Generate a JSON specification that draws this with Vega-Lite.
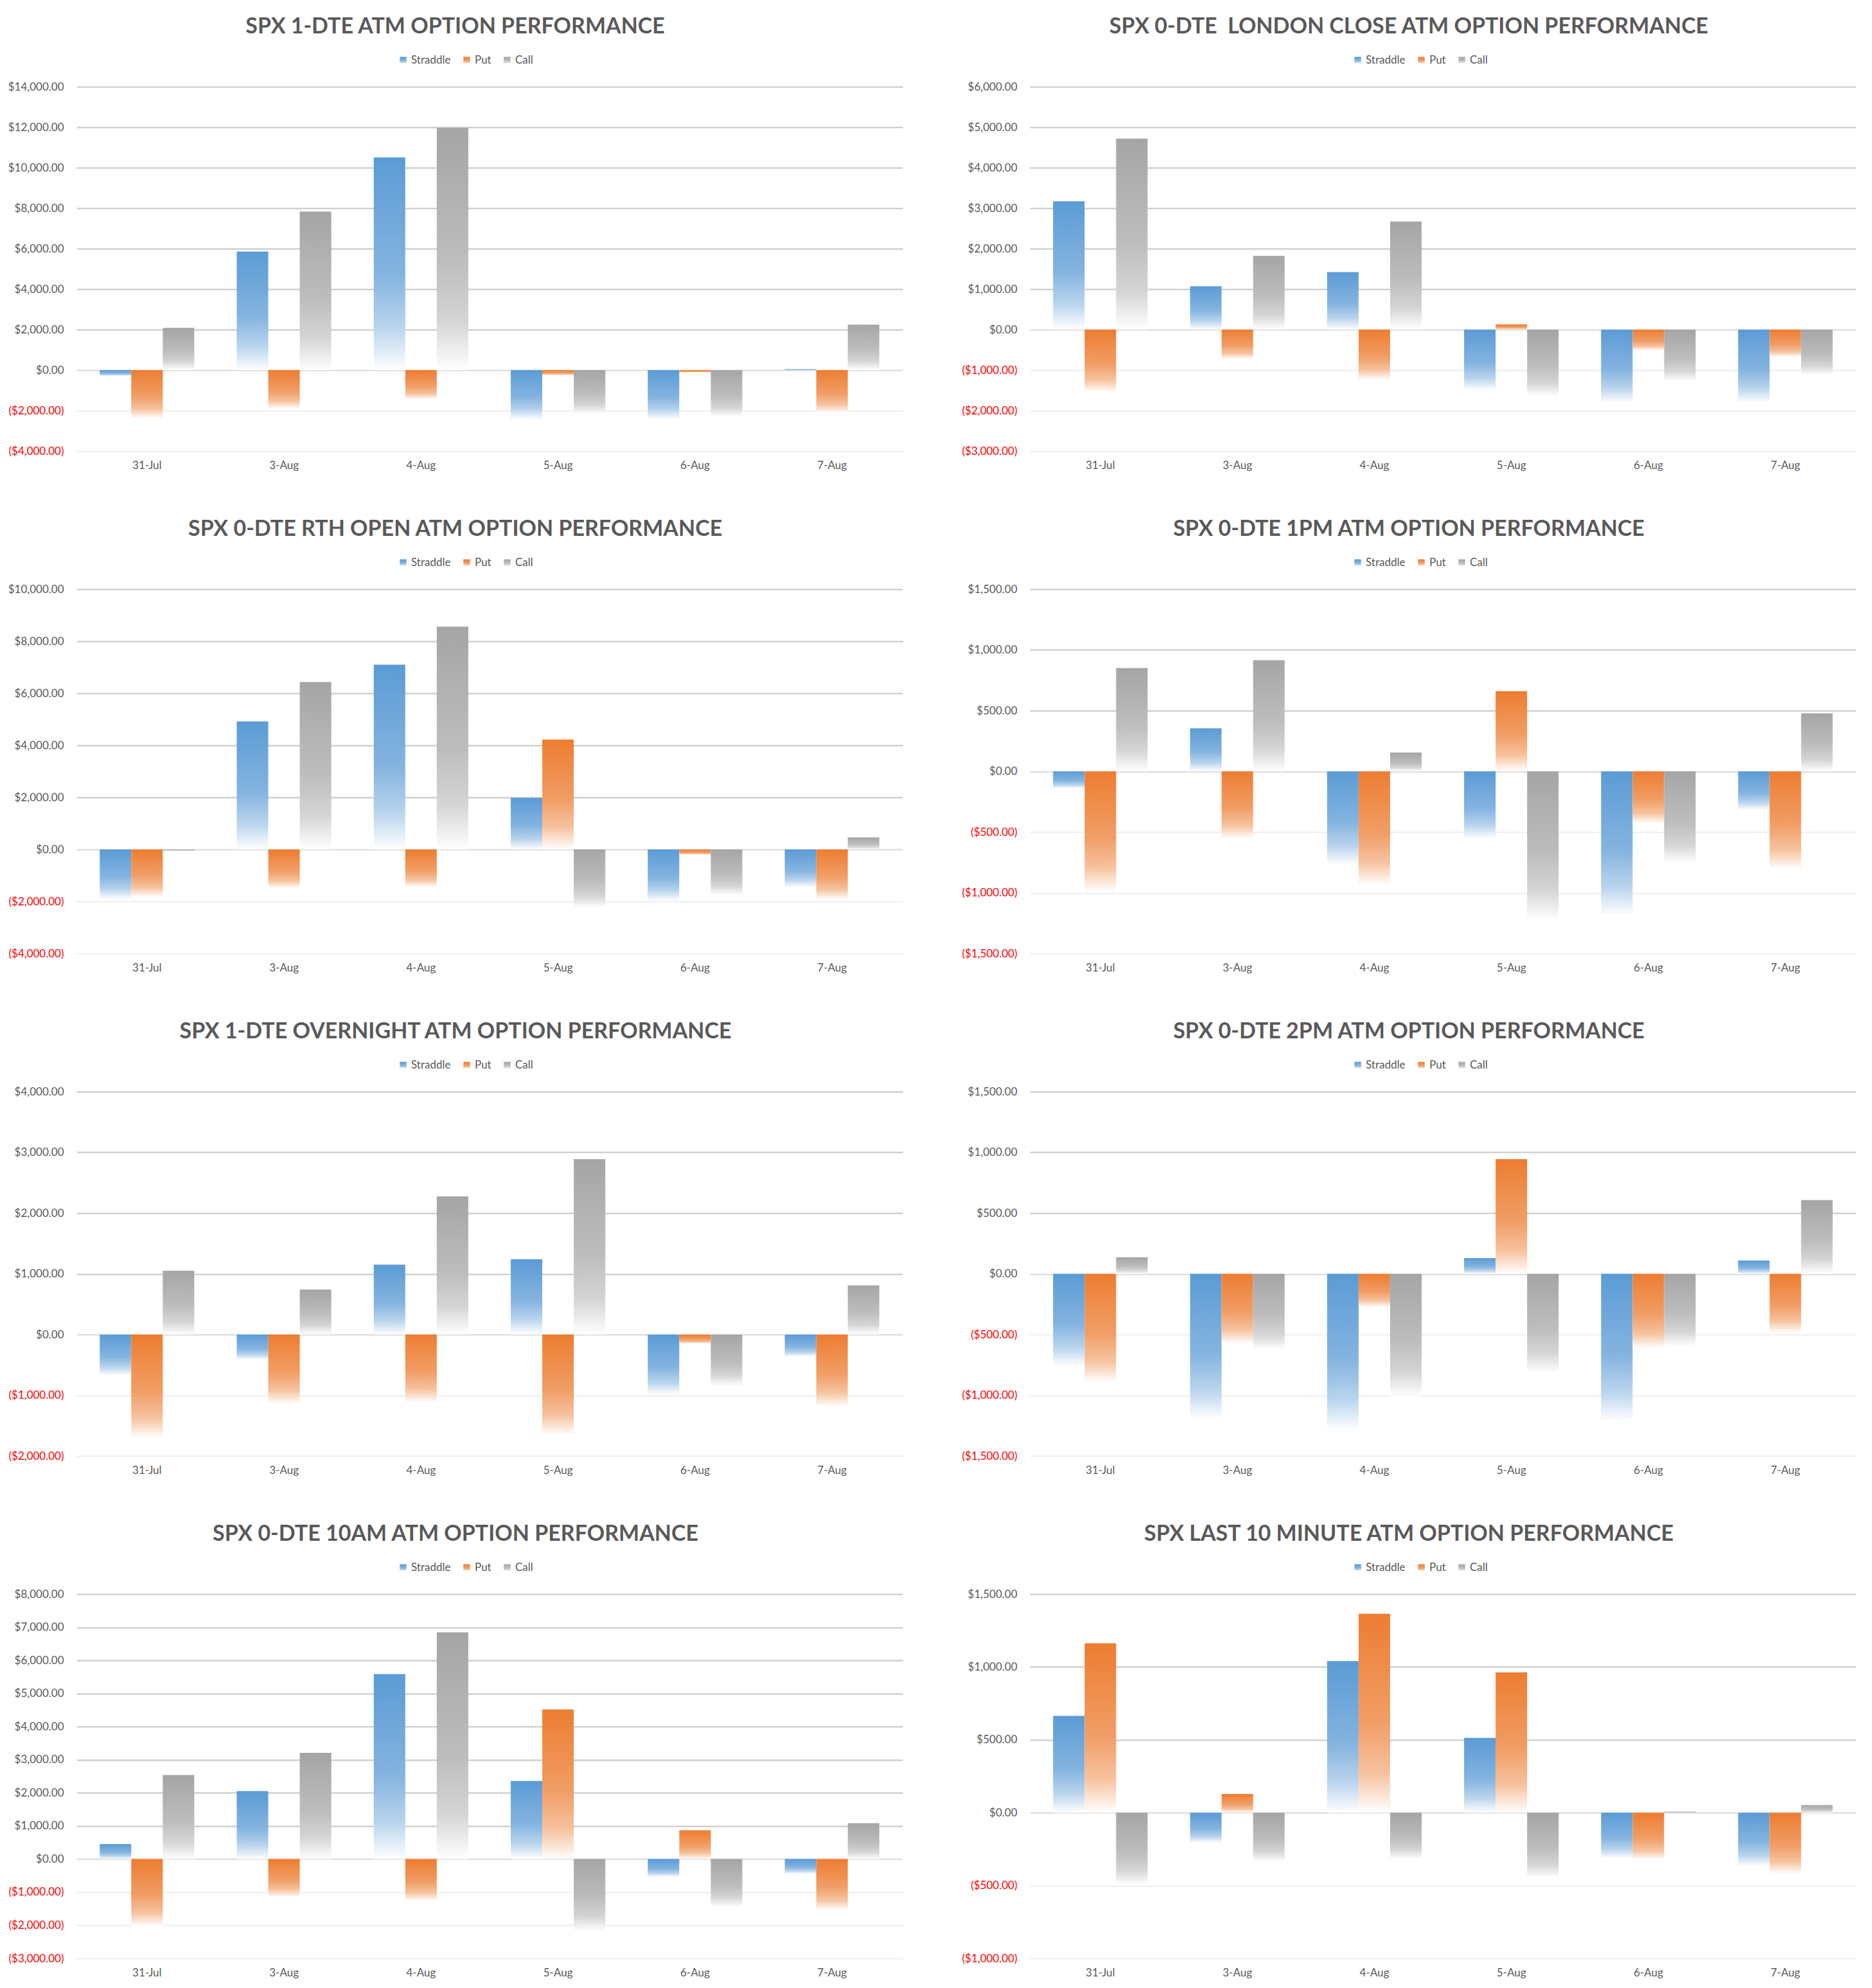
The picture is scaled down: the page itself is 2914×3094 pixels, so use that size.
{
"$schema":"https://vega.github.io/schema/vega-lite/v6.json",
"background":"white",
"padding":{"left":12,"top":25,"right":20,"bottom":10},
"bounds":"flush",
"columns":2,
"spacing":{"row":215,"column":198},
"params":[
{"name":"gB","value":{"gradient":"linear","x1":0,"y1":0,"x2":0,"y2":1,"stops":[{"offset":0,"color":"#5B9BD5"},{"offset":0.55,"color":"#84B4E0"},{"offset":0.8,"color":"#B9D4ED"},{"offset":1,"color":"#FFFFFF"}]}},
{"name":"gO","value":{"gradient":"linear","x1":0,"y1":0,"x2":0,"y2":1,"stops":[{"offset":0,"color":"#ED7D31"},{"offset":0.55,"color":"#F19E66"},{"offset":0.8,"color":"#F6C29E"},{"offset":1,"color":"#FFFFFF"}]}},
{"name":"gG","value":{"gradient":"linear","x1":0,"y1":0,"x2":0,"y2":1,"stops":[{"offset":0,"color":"#A5A5A5"},{"offset":0.55,"color":"#BDBDBD"},{"offset":0.8,"color":"#D5D5D5"},{"offset":1,"color":"#FFFFFF"}]}}
],
"resolve":{"scale":{"stroke":"independent"},"legend":{"stroke":"independent"}},
"data":{"values":[
{"c":1,"d":"31-Jul","s":"Straddle","v":-290},{"c":1,"d":"31-Jul","s":"Put","v":-2390},{"c":1,"d":"31-Jul","s":"Call","v":2090},
{"c":1,"d":"3-Aug","s":"Straddle","v":5860},{"c":1,"d":"3-Aug","s":"Put","v":-1910},{"c":1,"d":"3-Aug","s":"Call","v":7830},
{"c":1,"d":"4-Aug","s":"Straddle","v":10510},{"c":1,"d":"4-Aug","s":"Put","v":-1450},{"c":1,"d":"4-Aug","s":"Call","v":11970},
{"c":1,"d":"5-Aug","s":"Straddle","v":-2450},{"c":1,"d":"5-Aug","s":"Put","v":-260},{"c":1,"d":"5-Aug","s":"Call","v":-2160},
{"c":1,"d":"6-Aug","s":"Straddle","v":-2450},{"c":1,"d":"6-Aug","s":"Put","v":-120},{"c":1,"d":"6-Aug","s":"Call","v":-2310},
{"c":1,"d":"7-Aug","s":"Straddle","v":50},{"c":1,"d":"7-Aug","s":"Put","v":-2120},{"c":1,"d":"7-Aug","s":"Call","v":2250},
{"c":2,"d":"31-Jul","s":"Straddle","v":3170},{"c":2,"d":"31-Jul","s":"Put","v":-1550},{"c":2,"d":"31-Jul","s":"Call","v":4720},
{"c":2,"d":"3-Aug","s":"Straddle","v":1070},{"c":2,"d":"3-Aug","s":"Put","v":-730},{"c":2,"d":"3-Aug","s":"Call","v":1820},
{"c":2,"d":"4-Aug","s":"Straddle","v":1420},{"c":2,"d":"4-Aug","s":"Put","v":-1240},{"c":2,"d":"4-Aug","s":"Call","v":2670},
{"c":2,"d":"5-Aug","s":"Straddle","v":-1500},{"c":2,"d":"5-Aug","s":"Put","v":130},{"c":2,"d":"5-Aug","s":"Call","v":-1640},
{"c":2,"d":"6-Aug","s":"Straddle","v":-1810},{"c":2,"d":"6-Aug","s":"Put","v":-520},{"c":2,"d":"6-Aug","s":"Call","v":-1270},
{"c":2,"d":"7-Aug","s":"Straddle","v":-1810},{"c":2,"d":"7-Aug","s":"Put","v":-680},{"c":2,"d":"7-Aug","s":"Call","v":-1120},
{"c":3,"d":"31-Jul","s":"Straddle","v":-1920},{"c":3,"d":"31-Jul","s":"Put","v":-1830},{"c":3,"d":"31-Jul","s":"Call","v":-60},
{"c":3,"d":"3-Aug","s":"Straddle","v":4920},{"c":3,"d":"3-Aug","s":"Put","v":-1500},{"c":3,"d":"3-Aug","s":"Call","v":6430},
{"c":3,"d":"4-Aug","s":"Straddle","v":7100},{"c":3,"d":"4-Aug","s":"Put","v":-1460},{"c":3,"d":"4-Aug","s":"Call","v":8560},
{"c":3,"d":"5-Aug","s":"Straddle","v":1980},{"c":3,"d":"5-Aug","s":"Put","v":4220},{"c":3,"d":"5-Aug","s":"Call","v":-2240},
{"c":3,"d":"6-Aug","s":"Straddle","v":-1980},{"c":3,"d":"6-Aug","s":"Put","v":-210},{"c":3,"d":"6-Aug","s":"Call","v":-1760},
{"c":3,"d":"7-Aug","s":"Straddle","v":-1460},{"c":3,"d":"7-Aug","s":"Put","v":-1920},{"c":3,"d":"7-Aug","s":"Call","v":460},
{"c":4,"d":"31-Jul","s":"Straddle","v":-140},{"c":4,"d":"31-Jul","s":"Put","v":-990},{"c":4,"d":"31-Jul","s":"Call","v":850},
{"c":4,"d":"3-Aug","s":"Straddle","v":355},{"c":4,"d":"3-Aug","s":"Put","v":-555},{"c":4,"d":"3-Aug","s":"Call","v":915},
{"c":4,"d":"4-Aug","s":"Straddle","v":-770},{"c":4,"d":"4-Aug","s":"Put","v":-935},{"c":4,"d":"4-Aug","s":"Call","v":155},
{"c":4,"d":"5-Aug","s":"Straddle","v":-555},{"c":4,"d":"5-Aug","s":"Put","v":660},{"c":4,"d":"5-Aug","s":"Call","v":-1225},
{"c":4,"d":"6-Aug","s":"Straddle","v":-1190},{"c":4,"d":"6-Aug","s":"Put","v":-430},{"c":4,"d":"6-Aug","s":"Call","v":-755},
{"c":4,"d":"7-Aug","s":"Straddle","v":-320},{"c":4,"d":"7-Aug","s":"Put","v":-805},{"c":4,"d":"7-Aug","s":"Call","v":478},
{"c":5,"d":"31-Jul","s":"Straddle","v":-670},{"c":5,"d":"31-Jul","s":"Put","v":-1710},{"c":5,"d":"31-Jul","s":"Call","v":1050},
{"c":5,"d":"3-Aug","s":"Straddle","v":-415},{"c":5,"d":"3-Aug","s":"Put","v":-1145},{"c":5,"d":"3-Aug","s":"Call","v":740},
{"c":5,"d":"4-Aug","s":"Straddle","v":1150},{"c":5,"d":"4-Aug","s":"Put","v":-1120},{"c":5,"d":"4-Aug","s":"Call","v":2275},
{"c":5,"d":"5-Aug","s":"Straddle","v":1240},{"c":5,"d":"5-Aug","s":"Put","v":-1660},{"c":5,"d":"5-Aug","s":"Call","v":2890},
{"c":5,"d":"6-Aug","s":"Straddle","v":-990},{"c":5,"d":"6-Aug","s":"Put","v":-150},{"c":5,"d":"6-Aug","s":"Call","v":-845},
{"c":5,"d":"7-Aug","s":"Straddle","v":-365},{"c":5,"d":"7-Aug","s":"Put","v":-1185},{"c":5,"d":"7-Aug","s":"Call","v":810},
{"c":6,"d":"31-Jul","s":"Straddle","v":-760},{"c":6,"d":"31-Jul","s":"Put","v":-895},{"c":6,"d":"31-Jul","s":"Call","v":136},
{"c":6,"d":"3-Aug","s":"Straddle","v":-1195},{"c":6,"d":"3-Aug","s":"Put","v":-575},{"c":6,"d":"3-Aug","s":"Call","v":-625},
{"c":6,"d":"4-Aug","s":"Straddle","v":-1290},{"c":6,"d":"4-Aug","s":"Put","v":-275},{"c":6,"d":"4-Aug","s":"Call","v":-1010},
{"c":6,"d":"5-Aug","s":"Straddle","v":130},{"c":6,"d":"5-Aug","s":"Put","v":945},{"c":6,"d":"5-Aug","s":"Call","v":-815},
{"c":6,"d":"6-Aug","s":"Straddle","v":-1215},{"c":6,"d":"6-Aug","s":"Put","v":-615},{"c":6,"d":"6-Aug","s":"Call","v":-595},
{"c":6,"d":"7-Aug","s":"Straddle","v":110},{"c":6,"d":"7-Aug","s":"Put","v":-485},{"c":6,"d":"7-Aug","s":"Call","v":607},
{"c":7,"d":"31-Jul","s":"Straddle","v":455},{"c":7,"d":"31-Jul","s":"Put","v":-2025},{"c":7,"d":"31-Jul","s":"Call","v":2540},
{"c":7,"d":"3-Aug","s":"Straddle","v":2055},{"c":7,"d":"3-Aug","s":"Put","v":-1150},{"c":7,"d":"3-Aug","s":"Call","v":3210},
{"c":7,"d":"4-Aug","s":"Straddle","v":5585},{"c":7,"d":"4-Aug","s":"Put","v":-1260},{"c":7,"d":"4-Aug","s":"Call","v":6845},
{"c":7,"d":"5-Aug","s":"Straddle","v":2360},{"c":7,"d":"5-Aug","s":"Put","v":4520},{"c":7,"d":"5-Aug","s":"Call","v":-2175},
{"c":7,"d":"6-Aug","s":"Straddle","v":-540},{"c":7,"d":"6-Aug","s":"Put","v":870},{"c":7,"d":"6-Aug","s":"Call","v":-1450},
{"c":7,"d":"7-Aug","s":"Straddle","v":-450},{"c":7,"d":"7-Aug","s":"Put","v":-1540},{"c":7,"d":"7-Aug","s":"Call","v":1085},
{"c":8,"d":"31-Jul","s":"Straddle","v":664},{"c":8,"d":"31-Jul","s":"Put","v":1163},{"c":8,"d":"31-Jul","s":"Call","v":-494},
{"c":8,"d":"3-Aug","s":"Straddle","v":-206},{"c":8,"d":"3-Aug","s":"Put","v":129},{"c":8,"d":"3-Aug","s":"Call","v":-335},
{"c":8,"d":"4-Aug","s":"Straddle","v":1040},{"c":8,"d":"4-Aug","s":"Put","v":1366},{"c":8,"d":"4-Aug","s":"Call","v":-318},
{"c":8,"d":"5-Aug","s":"Straddle","v":513},{"c":8,"d":"5-Aug","s":"Put","v":963},{"c":8,"d":"5-Aug","s":"Call","v":-446},
{"c":8,"d":"6-Aug","s":"Straddle","v":-314},{"c":8,"d":"6-Aug","s":"Put","v":-322},{"c":8,"d":"6-Aug","s":"Call","v":8},
{"c":8,"d":"7-Aug","s":"Straddle","v":-367},{"c":8,"d":"7-Aug","s":"Put","v":-418},{"c":8,"d":"7-Aug","s":"Call","v":53}
]},
"concat":[
{"title":"SPX 1-DTE ATM OPTION PERFORMANCE","width":1286,"height":567,"transform":[{"filter":"datum.c == 1"}],
"mark":{"type":"bar","fill":{"expr":"(datum.s || datum.value) == 'Straddle' ? gB : (datum.s || datum.value) == 'Put' ? gO : gG"},"strokeWidth":0},
"encoding":{
"x":{"field":"d","type":"nominal","sort":["31-Jul","3-Aug","4-Aug","5-Aug","6-Aug","7-Aug"],"scale":{"paddingInner":0.31,"paddingOuter":0.17},"title":null},
"xOffset":{"field":"s","type":"nominal","sort":["Straddle","Put","Call"],"scale":{"paddingInner":0,"paddingOuter":0}},
"y":{"field":"v","type":"quantitative","scale":{"domain":[-4000,14000],"nice":false},"axis":{"values":[-4000,-2000,0,2000,4000,6000,8000,10000,12000,14000]},"title":null},
"stroke":{"field":"s","type":"nominal","scale":{"domain":["Straddle","Put","Call"],"range":["#5B9BD5","#ED7D31","#A5A5A5"]},"legend":{"legendX":500,"legendY":-50}}}},
{"title":"SPX 0-DTE \u00a0LONDON CLOSE ATM OPTION PERFORMANCE","width":1286,"height":567,"transform":[{"filter":"datum.c == 2"}],
"mark":{"type":"bar","fill":{"expr":"(datum.s || datum.value) == 'Straddle' ? gB : (datum.s || datum.value) == 'Put' ? gO : gG"},"strokeWidth":0},
"encoding":{
"x":{"field":"d","type":"nominal","sort":["31-Jul","3-Aug","4-Aug","5-Aug","6-Aug","7-Aug"],"scale":{"paddingInner":0.31,"paddingOuter":0.17},"title":null},
"xOffset":{"field":"s","type":"nominal","sort":["Straddle","Put","Call"],"scale":{"paddingInner":0,"paddingOuter":0}},
"y":{"field":"v","type":"quantitative","scale":{"domain":[-3000,6000],"nice":false},"axis":{"values":[-3000,-2000,-1000,0,1000,2000,3000,4000,5000,6000]},"title":null},
"stroke":{"field":"s","type":"nominal","scale":{"domain":["Straddle","Put","Call"],"range":["#5B9BD5","#ED7D31","#A5A5A5"]},"legend":{"legendX":502,"legendY":-50}}}},
{"title":"SPX 0-DTE RTH OPEN ATM OPTION PERFORMANCE","width":1286,"height":567,"transform":[{"filter":"datum.c == 3"}],
"mark":{"type":"bar","fill":{"expr":"(datum.s || datum.value) == 'Straddle' ? gB : (datum.s || datum.value) == 'Put' ? gO : gG"},"strokeWidth":0},
"encoding":{
"x":{"field":"d","type":"nominal","sort":["31-Jul","3-Aug","4-Aug","5-Aug","6-Aug","7-Aug"],"scale":{"paddingInner":0.31,"paddingOuter":0.17},"title":null},
"xOffset":{"field":"s","type":"nominal","sort":["Straddle","Put","Call"],"scale":{"paddingInner":0,"paddingOuter":0}},
"y":{"field":"v","type":"quantitative","scale":{"domain":[-4000,10000],"nice":false},"axis":{"values":[-4000,-2000,0,2000,4000,6000,8000,10000]},"title":null},
"stroke":{"field":"s","type":"nominal","scale":{"domain":["Straddle","Put","Call"],"range":["#5B9BD5","#ED7D31","#A5A5A5"]},"legend":{"legendX":500,"legendY":-50}}}},
{"title":"SPX 0-DTE 1PM ATM OPTION PERFORMANCE","width":1286,"height":567,"transform":[{"filter":"datum.c == 4"}],
"mark":{"type":"bar","fill":{"expr":"(datum.s || datum.value) == 'Straddle' ? gB : (datum.s || datum.value) == 'Put' ? gO : gG"},"strokeWidth":0},
"encoding":{
"x":{"field":"d","type":"nominal","sort":["31-Jul","3-Aug","4-Aug","5-Aug","6-Aug","7-Aug"],"scale":{"paddingInner":0.31,"paddingOuter":0.17},"title":null},
"xOffset":{"field":"s","type":"nominal","sort":["Straddle","Put","Call"],"scale":{"paddingInner":0,"paddingOuter":0}},
"y":{"field":"v","type":"quantitative","scale":{"domain":[-1500,1500],"nice":false},"axis":{"values":[-1500,-1000,-500,0,500,1000,1500]},"title":null},
"stroke":{"field":"s","type":"nominal","scale":{"domain":["Straddle","Put","Call"],"range":["#5B9BD5","#ED7D31","#A5A5A5"]},"legend":{"legendX":502,"legendY":-50}}}},
{"title":"SPX 1-DTE OVERNIGHT ATM OPTION PERFORMANCE","width":1286,"height":567,"transform":[{"filter":"datum.c == 5"}],
"mark":{"type":"bar","fill":{"expr":"(datum.s || datum.value) == 'Straddle' ? gB : (datum.s || datum.value) == 'Put' ? gO : gG"},"strokeWidth":0},
"encoding":{
"x":{"field":"d","type":"nominal","sort":["31-Jul","3-Aug","4-Aug","5-Aug","6-Aug","7-Aug"],"scale":{"paddingInner":0.31,"paddingOuter":0.17},"title":null},
"xOffset":{"field":"s","type":"nominal","sort":["Straddle","Put","Call"],"scale":{"paddingInner":0,"paddingOuter":0}},
"y":{"field":"v","type":"quantitative","scale":{"domain":[-2000,4000],"nice":false},"axis":{"values":[-2000,-1000,0,1000,2000,3000,4000]},"title":null},
"stroke":{"field":"s","type":"nominal","scale":{"domain":["Straddle","Put","Call"],"range":["#5B9BD5","#ED7D31","#A5A5A5"]},"legend":{"legendX":500,"legendY":-50}}}},
{"title":"SPX 0-DTE 2PM ATM OPTION PERFORMANCE","width":1286,"height":567,"transform":[{"filter":"datum.c == 6"}],
"mark":{"type":"bar","fill":{"expr":"(datum.s || datum.value) == 'Straddle' ? gB : (datum.s || datum.value) == 'Put' ? gO : gG"},"strokeWidth":0},
"encoding":{
"x":{"field":"d","type":"nominal","sort":["31-Jul","3-Aug","4-Aug","5-Aug","6-Aug","7-Aug"],"scale":{"paddingInner":0.31,"paddingOuter":0.17},"title":null},
"xOffset":{"field":"s","type":"nominal","sort":["Straddle","Put","Call"],"scale":{"paddingInner":0,"paddingOuter":0}},
"y":{"field":"v","type":"quantitative","scale":{"domain":[-1500,1500],"nice":false},"axis":{"values":[-1500,-1000,-500,0,500,1000,1500]},"title":null},
"stroke":{"field":"s","type":"nominal","scale":{"domain":["Straddle","Put","Call"],"range":["#5B9BD5","#ED7D31","#A5A5A5"]},"legend":{"legendX":502,"legendY":-50}}}},
{"title":"SPX 0-DTE 10AM ATM OPTION PERFORMANCE","width":1286,"height":567,"transform":[{"filter":"datum.c == 7"}],
"mark":{"type":"bar","fill":{"expr":"(datum.s || datum.value) == 'Straddle' ? gB : (datum.s || datum.value) == 'Put' ? gO : gG"},"strokeWidth":0},
"encoding":{
"x":{"field":"d","type":"nominal","sort":["31-Jul","3-Aug","4-Aug","5-Aug","6-Aug","7-Aug"],"scale":{"paddingInner":0.31,"paddingOuter":0.17},"title":null},
"xOffset":{"field":"s","type":"nominal","sort":["Straddle","Put","Call"],"scale":{"paddingInner":0,"paddingOuter":0}},
"y":{"field":"v","type":"quantitative","scale":{"domain":[-3000,8000],"nice":false},"axis":{"values":[-3000,-2000,-1000,0,1000,2000,3000,4000,5000,6000,7000,8000]},"title":null},
"stroke":{"field":"s","type":"nominal","scale":{"domain":["Straddle","Put","Call"],"range":["#5B9BD5","#ED7D31","#A5A5A5"]},"legend":{"legendX":500,"legendY":-50}}}},
{"title":"SPX LAST 10 MINUTE ATM OPTION PERFORMANCE","width":1286,"height":567,"transform":[{"filter":"datum.c == 8"}],
"mark":{"type":"bar","fill":{"expr":"(datum.s || datum.value) == 'Straddle' ? gB : (datum.s || datum.value) == 'Put' ? gO : gG"},"strokeWidth":0},
"encoding":{
"x":{"field":"d","type":"nominal","sort":["31-Jul","3-Aug","4-Aug","5-Aug","6-Aug","7-Aug"],"scale":{"paddingInner":0.31,"paddingOuter":0.17},"title":null},
"xOffset":{"field":"s","type":"nominal","sort":["Straddle","Put","Call"],"scale":{"paddingInner":0,"paddingOuter":0}},
"y":{"field":"v","type":"quantitative","scale":{"domain":[-1000,1500],"nice":false},"axis":{"values":[-1000,-500,0,500,1000,1500]},"title":null},
"stroke":{"field":"s","type":"nominal","scale":{"domain":["Straddle","Put","Call"],"range":["#5B9BD5","#ED7D31","#A5A5A5"]},"legend":{"legendX":502,"legendY":-50}}}}
],
"config":{
"view":{"stroke":null},
"font":"Lato",
"title":{"font":"Lato","fontSize":34,"fontWeight":"bold","color":"#595959","anchor":"middle","frame":"bounds","offset":26},
"axis":{"labelFont":"Lato","labelFontSize":17,"labelColor":"#595959","domain":false,"ticks":false},
"axisX":{"grid":false,"labelAngle":0,"labelPadding":14},
"axisY":{"grid":true,"gridWidth":2,"labelPadding":20,
"gridColor":{"condition":[{"test":"datum.value > 0","value":"#C6C6C6"},{"test":"datum.value == 0","value":"#D9D9D9"}],"value":"#EEEEEE"},
"labelColor":{"condition":{"test":"datum.value < 0","value":"#FF0000"},"value":"#595959"},
"labelExpr":"datum.value < 0 ? '(' + format(-datum.value, '$,.2f') + ')' : format(datum.value, '$,.2f')"},
"legend":{"orient":"none","direction":"horizontal","title":null,"labelFont":"Lato","labelFontSize":17,"labelColor":"#595959","symbolType":"square","symbolSize":110,"symbolStrokeWidth":0,"labelOffset":4,"columnPadding":16,"padding":0}
}
}
